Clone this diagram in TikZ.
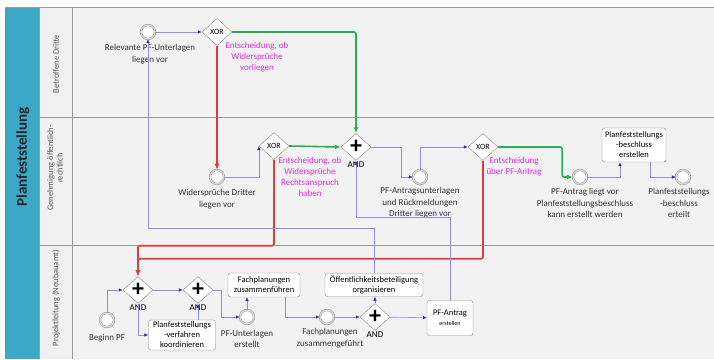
\documentclass[tikz,border=0pt]{standalone}
\usepackage{fontspec}
\setmainfont{Carlito}
\usetikzlibrary{shapes.geometric, arrows.meta}
\definecolor{lanefill}{HTML}{F2F2F2}
\definecolor{poolblue}{HTML}{3AA8C6}
\definecolor{laneline}{HTML}{9A9A9A}
\definecolor{flowline}{HTML}{8F8FE8}
\definecolor{flowtip}{HTML}{2B2BA6}
\definecolor{okgreen}{HTML}{27B04E}
\definecolor{nored}{HTML}{E23A3A}
\definecolor{notepink}{HTML}{E22AE0}
\definecolor{shapeline}{HTML}{8A8A8A}
\begin{document}
\begin{tikzpicture}[x = 1pt, y = -1pt,
	evt/.style = {circle, draw = shapeline, double = gray!30, double distance = 1.3pt, fill = white, minimum size = 14pt, inner sep = 0pt},
	gate/.style = {diamond, draw = shapeline, fill = white, minimum width = 30pt, minimum height = 27pt, inner sep = 0pt, font = \fontsize{8}{8}\selectfont},
	andgate/.style = {gate, font = \bfseries\fontsize{24}{24}\selectfont, label = {[font = \fontsize{9}{9}\selectfont, inner sep = 0.5pt]below:AND}},
	box/.style = {rectangle, rounded corners = 2.5pt, draw = shapeline, fill = white, align = center, inner sep = 1.5pt, font = \fontsize{8.5}{10}\selectfont},
	txt/.style = {align = center, inner sep = 0pt, font = \fontsize{9}{11.5}\selectfont, text = black!80},
	note/.style = {align = center, inner sep = 0pt, font = \fontsize{9}{11}\selectfont, text = notepink},
	flow/.style = {draw = flowline, line width = 0.6pt, -{Latex[length = 4pt, width = 3.5pt, color = flowtip]}},
	okflow/.style = {draw = okgreen, line width = 1.6pt, rounded corners = 2pt, -{Latex[length = 6pt, width = 5pt]}},
	noflow/.style = {draw = nored, line width = 1.6pt, rounded corners = 2pt, -{Latex[length = 6pt, width = 5pt]}},
	lanetxt/.style = {rotate = 90, align = center, inner sep = 0pt, font = \fontsize{8.5}{9.5}\selectfont, text = black!65}]
	\useasboundingbox[fill = white] (0, 0) rectangle (714, 359);
	\fill[lanefill] (5, 7) rectangle (714, 359);
	\fill[poolblue] (5, 7) rectangle (39, 359);
	\fill[gray!12] (39, 7) rectangle (72, 359);
	\draw[laneline, line width = 1pt] (5, 7) -- (714, 7);
	\draw[laneline, line width = 1pt] (39, 117) -- (714, 117);
	\draw[laneline, line width = 1pt] (39, 245) -- (714, 245);
	\draw[laneline] (39, 7) -- (39, 359);
	\draw[laneline] (72, 7) -- (72, 359);
	\node (pool) at (23, 157) [rotate = 90, font = \bfseries\fontsize{15}{15}\selectfont, text = black!85] {Planfeststellung};
	\node (lanea) at (56, 64) [lanetxt] {Betroffene Dritte};
	\node (laneb) at (55, 168) [lanetxt] {Genehmigung öffentlich-\\rechtlich};
	\node (lanec) at (56, 298) [lanetxt] {Projektleitung (Neubauamt)};

	\node (relevant) at (148, 32) [evt] {};
	\node (relevanttxt) at (150, 54) [txt] {Relevante PF-Unterlagen\\liegen vor};
	\node (xora) at (217, 32) [gate] {XOR};
		\draw[flow] (relevant) -- (xora);
	\node (xoratxt) at (257, 57) [note] {Entscheidung, ob\\Widersprüche\\vorliegen};
	\node (wider) at (217, 177) [evt] {};
		\draw[noflow] (xora.south) -- (wider.north);
	\node (widertxt) at (217, 199) [txt] {Widersprüche Dritter\\liegen vor};
	\node (xorb) at (274, 146) [gate] {XOR};
		\draw[flow] (wider.east) -| (xorb.west);
	\node (xorbtxt) at (310, 177) [note] {Entscheidung, ob\\Widersprüche\\Rechtsanspruch\\haben};
	\node (anda) at (356, 147) [andgate] {+};
		\draw[okflow] (xora.east) -| (anda.north);
		\draw[okflow] (xorb.east) -- (anda.west);
	\node (unterl) at (420, 177) [evt] {};
		\draw[flow] (anda.east) -- ++(30, 0) |- (unterl.west);
	\node (unterltxt) at (420, 203) [txt] {PF-Antragsunterlagen\\und Rückmeldungen\\Dritter liegen vor};
	\node (xorc) at (483, 147) [gate] {XOR};
		\draw[flow] (unterl.north) |- (xorc.west);
	\node (xorctxt) at (514, 167) [note] {Entscheidung\\über PF-Antrag};
	\node (antrag) at (580, 177) [evt] {};
		\draw[okflow] (xorc.east) -- ++(64, 0) |- (antrag.west);
	\node (antragtxt) at (585, 203) [txt] {PF-Antrag liegt vor\\Planfeststellungsbeschluss\\kann erstellt werden};
	\node (beschl) at (634, 145) [box, minimum width = 64pt, minimum height = 34pt] {Planfeststellungs\\-beschluss\\erstellen};
		\draw[flow] (antrag.east) -| ([xshift = -14pt]beschl.south);
	\node (ende) at (683, 177) [evt] {};
		\draw[flow] ([xshift = 16pt]beschl.south) |- (ende.west);
	\node (endetxt) at (679, 203) [txt] {Planfeststellungs\\-beschluss\\erteilt};

	\node (beginn) at (107, 320) [evt] {};
	\node (beginntxt) at (107, 338) [txt] {Beginn PF};
	\node (andb) at (138, 290) [andgate] {+};
		\draw[flow] (beginn.north) |- (andb.west);
		\draw[noflow] (xorb.south) -- ++(0, 86) -| (andb.north);
		\draw[noflow] (xorc.south) -- ++(0, 98) -| (andb.north);
	\node (andc) at (198, 290) [andgate] {+};
		\draw[flow] (andb.east) -- (andc.west);
	\node (koord) at (182, 335) [box, minimum width = 67pt, minimum height = 30pt] {Planfeststellungs\\-verfahren\\koordinieren};
		\draw[flow] (andb.south) |- (koord.west);
		\draw[flow] (andc.south |- koord.north) -- (andc.south);
	\node (unterlerst) at (247, 317) [evt] {};
		\draw[flow] (andc.east) -- ++(8, 0) |- (unterlerst.west);
	\node (unterlersttxt) at (247, 339) [txt] {PF-Unterlagen\\erstellt};
	\node (fachzus) at (264, 285) [box, minimum width = 72pt, minimum height = 24pt] {Fachplanungen\\zusammenführen};
		\draw[flow] (unterlerst.north) -- (unterlerst.north |- fachzus.south);
	\node (fachgef) at (327, 317) [evt] {};
		\draw[flow] ([xshift = 21pt]fachzus.south) |- (fachgef.west);
	\node (fachgeftxt) at (330, 338) [txt] {Fachplanungen\\zusammengeführt};
	\node (andd) at (375, 317) [andgate] {+};
		\draw[flow] (fachgef) -- (andd);
	\node (oeff) at (374, 285) [box, minimum width = 98pt, minimum height = 23pt] {Öffentlichkeitsbeteiligung\\organisieren};
		\draw[flow] (andd.north) -- (andd.north |- oeff.south);
		\draw[flow] (oeff.north) -- ++(0, -45) -| (relevant.south);
	\node (pfantrag) at (450, 318) [box, minimum width = 46pt, minimum height = 35pt] {PF-Antrag\\{\fontsize{6}{7}\selectfont erstellen}};
		\draw[flow] (andd) -- (pfantrag);
		\draw[flow] (pfantrag.north) -- ++(0, -83) -| (anda.south);
\end{tikzpicture}
\end{document}
